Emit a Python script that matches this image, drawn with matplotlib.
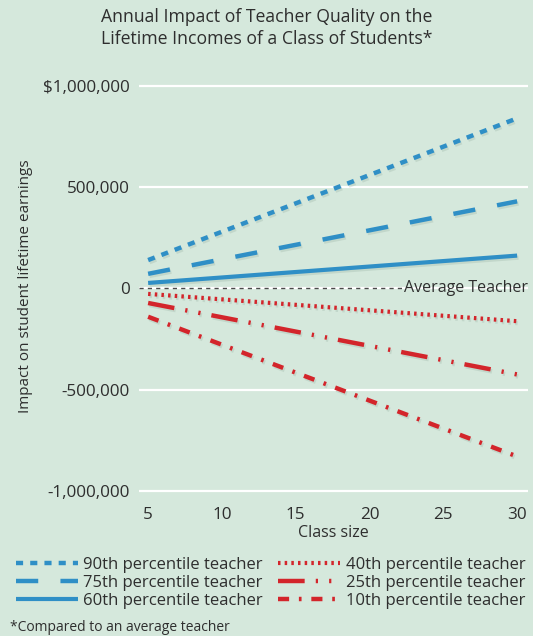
import numpy as np
import matplotlib
matplotlib.use("Agg")
import matplotlib.pyplot as plt
from matplotlib.lines import Line2D
import matplotlib.patheffects as pe

class_size = [5, 30]
p90 = [140000, 840000]
p75 = [72000, 430000]
p60 = [27000, 162000]
p40 = [-27000, -162000]
p25 = [-72000, -425000]
p10 = [-140000, -830000]

labels = ["90th percentile teacher", "75th percentile teacher", "60th percentile teacher",
          "40th percentile teacher", "25th percentile teacher", "10th percentile teacher"]
yticks = [-1000000, -500000, 0, 500000, 1000000]
ytick_labels = ["-1,000,000", "-500,000", "0", "500,000", "$1,000,000"]
xticks = [5, 10, 15, 20, 25, 30]

bg = "#d5e8dc"
blue = "#2f8fc6"
red = "#d3252b"
txt = "#2e2e2e"

plt.rcParams["font.family"] = ["Open Sans", "DejaVu Sans"]

fig = plt.figure(figsize=(5.33, 6.36), dpi=100, facecolor=bg)
ax = fig.add_axes([0.261, 0.2186, 0.730, 0.6635], facecolor=bg)

shadow = [pe.SimpleLineShadow(offset=(1, -1.5), shadow_color="#8aa597", alpha=0.25), pe.Normal()]

styles = [
    (p90, blue, (0, (1.6, 1.6)), 3.2),
    (p75, blue, (0, (5, 5)), 3.2),
    (p60, blue, "-", 3.0),
    (p40, red, (0, (0.6, 1.0)), 3.0),
    (p25, red, (0, (6, 2.5, 0.5, 2.5, 0.5, 2.5)), 3.2),
    (p10, red, (0, (2.5, 2.2, 0.6, 2.2)), 3.2),
]

handles = []
for (vals, col, ls, lw), lab in zip(styles, labels):
    ax.plot(class_size, vals, color=col, linestyle=ls, linewidth=lw,
            solid_capstyle="butt", dash_capstyle="butt", path_effects=shadow, zorder=3)
    handles.append(Line2D([], [], color=col, linestyle=ls, linewidth=lw,
                          dash_capstyle="butt", solid_capstyle="butt"))

for y in yticks:
    ax.axhline(y, color="white", linewidth=1.6, zorder=1)
ax.plot([4.39, 22.2], [0, 0], color="#4a4a4a", linestyle=(0, (3, 3)), linewidth=1.0, zorder=2)
ax.text(22.35, 0, "Average Teacher", va="center", ha="left", fontsize=11.5, color=txt)

ax.set_xlim(4.39, 30.75)
ax.set_ylim(-1030000, 1054000)
ax.set_xticks(xticks)
ax.set_yticks(yticks)
ax.set_yticklabels(ytick_labels)
ax.tick_params(length=0, labelsize=12.3, colors=txt, pad=7)
for s in ax.spines.values():
    s.set_visible(False)

ax.set_xlabel("Class size", fontsize=11.5, color=txt, labelpad=2)
ax.set_ylabel("Impact on student lifetime earnings", fontsize=11, color=txt, labelpad=7)

fig.text(0.5, 0.987, "Annual Impact of Teacher Quality on the\nLifetime Incomes of a Class of Students*",
         ha="center", va="top", fontsize=12.7, color=txt, linespacing=1.25)

leg = fig.legend(handles, labels, ncol=2, loc="upper left", bbox_to_anchor=(0.03, 0.124),
                 frameon=False, fontsize=12, handlelength=3.7, handletextpad=0.35,
                 labelspacing=0.12, columnspacing=0.9, borderaxespad=0, borderpad=0)
for t in leg.get_texts():
    t.set_color(txt)

fig.text(0.018, 0.002, "*Compared to an average teacher", fontsize=10, color=txt, ha="left", va="bottom")

fig.savefig("out.png", dpi=100, facecolor=bg)
